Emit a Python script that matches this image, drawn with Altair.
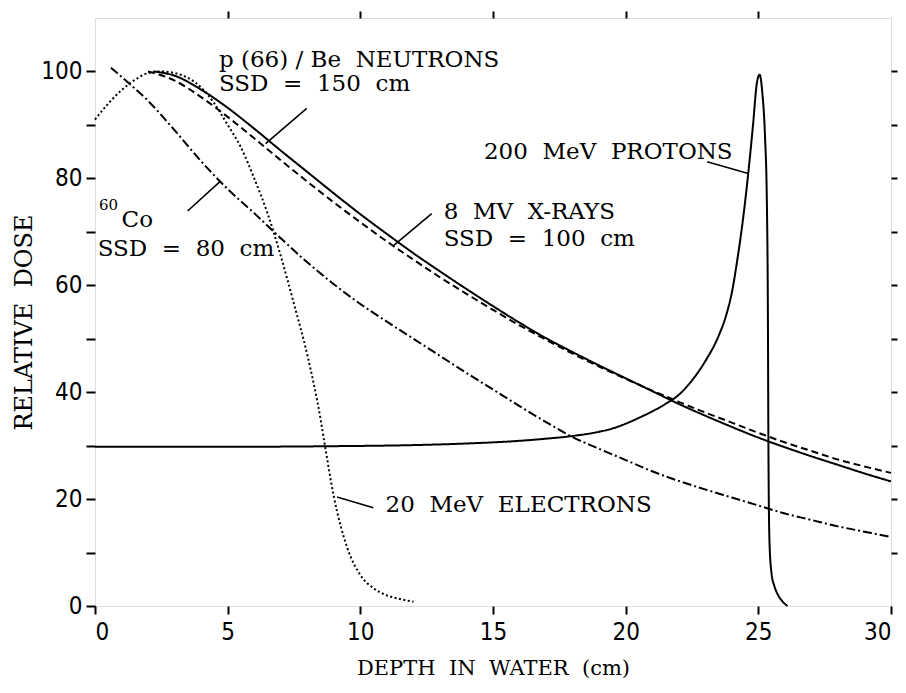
import altair as alt
import pandas as pd

NB = "\u00a0"

# ---- curve data ----
neut_x = [2.2, 3, 4, 5, 6, 7, 8, 9, 10, 11, 12, 13, 14, 15, 16, 17, 18, 19, 20, 21, 22, 23, 24, 25, 26, 27, 28, 29, 30]
neut_y = [100, 99.2, 96.6, 93.2, 89.3, 85.2, 81.2, 77.2, 73.3, 69.6, 66, 62.6, 59.3, 56.1, 53, 50.1, 47.5, 45, 42.6, 40.2, 37.8, 35.6, 33.5, 31.5, 29.7, 28, 26.4, 24.8, 23.3]

xray_x = [2, 3, 4, 5, 6, 7, 8, 9, 10, 11, 12, 13, 14, 15, 16, 17, 18, 19, 20, 21, 22, 23, 24, 25, 26, 27, 28, 29, 30]
xray_y = [100, 98.3, 95.2, 91.5, 87.5, 83.4, 79.4, 75.5, 71.8, 68.2, 64.8, 61.5, 58.4, 55.4, 52.5, 49.8, 47.2, 44.8, 42.5, 40.3, 38.2, 36.2, 34.3, 32.4, 30.6, 29, 27.4, 26.1, 24.9]

co_x = [0.6, 1, 2, 3, 4, 5, 6, 7, 8, 9, 10, 11, 12, 13, 14, 15, 16, 17, 18, 19, 20, 21, 22, 23, 24, 25, 26, 27, 28, 29, 30]
co_y = [100.7, 99, 94.5, 89, 83.2, 78, 73.5, 68.8, 64.3, 60.2, 56.5, 53.2, 50, 46.8, 43.6, 40.5, 37.4, 34.4, 31.6, 29.4, 27.3, 25.2, 23.4, 21.8, 20.3, 18.8, 17.3, 16.1, 14.9, 13.9, 12.9]

elec_x = [0, 0.5, 1, 1.5, 2, 2.5, 3, 3.5, 4, 4.5, 5, 5.5, 6, 6.5, 7, 7.5, 8, 8.5, 8.65, 9, 9.5, 10, 10.5, 11, 11.5, 12]
elec_y = [91, 94, 96.5, 98.4, 99.7, 100, 99.7, 98.8, 97, 94, 90, 85.8, 80, 73.5, 65.5, 56.5, 47, 35, 30.5, 20.5, 11, 5.8, 3.3, 2, 1.3, 0.8]

prot_x = [0, 3, 6, 9, 12, 14, 16, 17, 18, 19, 19.5, 20, 20.5, 21, 21.5, 22, 22.5, 23, 23.5, 23.8, 24.0, 24.2, 24.4, 24.6, 24.8, 24.95, 25.05, 25.15, 25.25, 25.32, 25.36, 25.38, 25.42, 25.5, 25.6, 25.75, 25.9, 26.1]
prot_y = [29.8, 29.8, 29.8, 29.9, 30.1, 30.4, 30.9, 31.3, 31.8, 32.6, 33.2, 34.1, 35.2, 36.4, 37.8, 39.5, 42.2, 45.8, 50.5, 54.6, 58.6, 64.5, 71.5, 80, 90, 98, 99.4, 96, 88, 76, 55, 30, 12, 6, 3.8, 2, 0.9, 0]

series_names = ["neutrons", "xrays", "co60", "electrons", "protons"]
series_dash = [[1, 0], [7, 4], [9, 3, 2, 3], [2, 2.5], [1, 0]]

# ---- annotation data ----
label_text = ["p (66) / Be" + NB + " NEUTRONS", "SSD" + NB + " =" + NB + " 150" + NB + " cm",
              "200" + NB + " MeV" + NB + " PROTONS",
              "8" + NB + " MV" + NB + " X-RAYS", "SSD" + NB + " =" + NB + " 100" + NB + " cm",
              "60", "Co", "SSD" + NB + " =" + NB + " 80" + NB + " cm",
              "20" + NB + " MeV" + NB + " ELECTRONS"]
label_x = [4.67, 4.67, 14.66, 13.14, 13.14, 0.15, 1.0, 0.1, 10.95]
label_y = [102.2, 97.7, 85.0, 73.7, 68.7, 75.0, 72.2, 66.8, 18.9]
label_size = [23, 23, 23, 23, 23, 15, 23, 23, 23]

ptr_x1 = [7.98, 12.69, 3.49, 23.07, 9.12]
ptr_y1 = [93.1, 73.4, 73.9, 83.1, 20.4]
ptr_x2 = [6.43, 11.25, 4.71, 24.62, 10.49]
ptr_y2 = [86.5, 67.4, 79.4, 80.9, 18.4]

x_ticks = [0, 5, 10, 15, 20, 25, 30]
y_ticks = [0, 10, 20, 30, 40, 50, 60, 70, 80, 90, 100]
top_ticks = [5, 10, 15, 20, 25]
right_ticks = [10, 20, 30, 40, 50, 60, 70, 80, 90, 100]

# ---- build tables ----
rows = []
for name, xs_, ys_ in zip(series_names,
                          [neut_x, xray_x, co_x, elec_x, prot_x],
                          [neut_y, xray_y, co_y, elec_y, prot_y]):
    for i, (xv, yv) in enumerate(zip(xs_, ys_)):
        rows.append({"series": name, "x": xv, "y": yv, "order": i})
df = pd.DataFrame(rows)

labels = pd.DataFrame({"text": label_text, "x": label_x, "y": label_y, "size": label_size})
ptrs = pd.DataFrame({"x1": ptr_x1, "y1": ptr_y1, "x2": ptr_x2, "y2": ptr_y2})

xs = alt.Scale(domain=[0, 30], nice=False, zero=False)
ys = alt.Scale(domain=[0, 110], nice=False, zero=False)

TICK_FONT = "Liberation Sans Narrow, DejaVu Sans Condensed, DejaVu Sans"
SERIF = "DejaVu Serif"

lines = alt.Chart(df).mark_line(color="black", strokeWidth=2, interpolate="monotone").encode(
    x=alt.X("x:Q", scale=xs, axis=alt.Axis(
        values=x_ticks, tickSize=8, tickWidth=2, tickColor="black", domain=False, grid=False,
        labelFont=TICK_FONT, labelFontSize=24, labelColor="black", labelPadding=6,
        title="DEPTH" + NB + " IN" + NB + " WATER" + NB + " (cm)", titleFont=SERIF, titleFontSize=21,
        titleFontWeight="normal", titleColor="black", titleY=62, titleBaseline="middle")),
    y=alt.Y("y:Q", scale=ys, axis=alt.Axis(
        values=y_ticks, labelExpr="datum.value % 20 == 0 ? datum.label : ''",
        tickSize=9, tickWidth=2, tickColor="black", domain=False, grid=False,
        labelFont=TICK_FONT, labelFontSize=24, labelColor="black", labelPadding=4,
        title="RELATIVE" + NB + " DOSE", titleFont=SERIF, titleFontSize=24, titleFontWeight="normal",
        titleColor="black", titleAngle=270, titleX=-71, titleY=304,
        titleAlign="center", titleBaseline="middle")),
    detail="series:N",
    order="order:Q",
    strokeDash=alt.StrokeDash("series:N", scale=alt.Scale(domain=series_names, range=series_dash), legend=None),
)

pointers = alt.Chart(ptrs).mark_rule(color="black", strokeWidth=1.6).encode(
    x=alt.X("x1:Q", scale=xs, axis=alt.Axis(
        orient="top", values=top_ticks, labels=False, tickSize=7, tickWidth=2,
        tickColor="black", domain=False, grid=False, title="")),
    y=alt.Y("y1:Q", scale=ys, axis=alt.Axis(
        orient="right", values=right_ticks, labels=False, tickSize=6, tickWidth=2,
        tickColor="black", domain=False, grid=False, title="")),
    x2="x2:Q",
    y2="y2:Q",
)

texts = alt.Chart(labels).mark_text(align="left", baseline="middle", font=SERIF, color="black").encode(
    x=alt.X("x:Q", scale=xs, axis=None),
    y=alt.Y("y:Q", scale=ys, axis=None),
    text="text:N",
    size=alt.Size("size:Q", scale=None, legend=None),
)

chart = alt.layer(lines, pointers, texts).resolve_axis(x="independent", y="independent").properties(
    width=796, height=588,
    autosize=alt.AutoSizeParams(type="none"),
    padding={"left": 87, "top": 10, "right": 7, "bottom": 75},
).configure_view(stroke="black", strokeWidth=2).configure(background="white")

chart.save("out.html", embed_options={"renderer": "svg", "actions": False})
